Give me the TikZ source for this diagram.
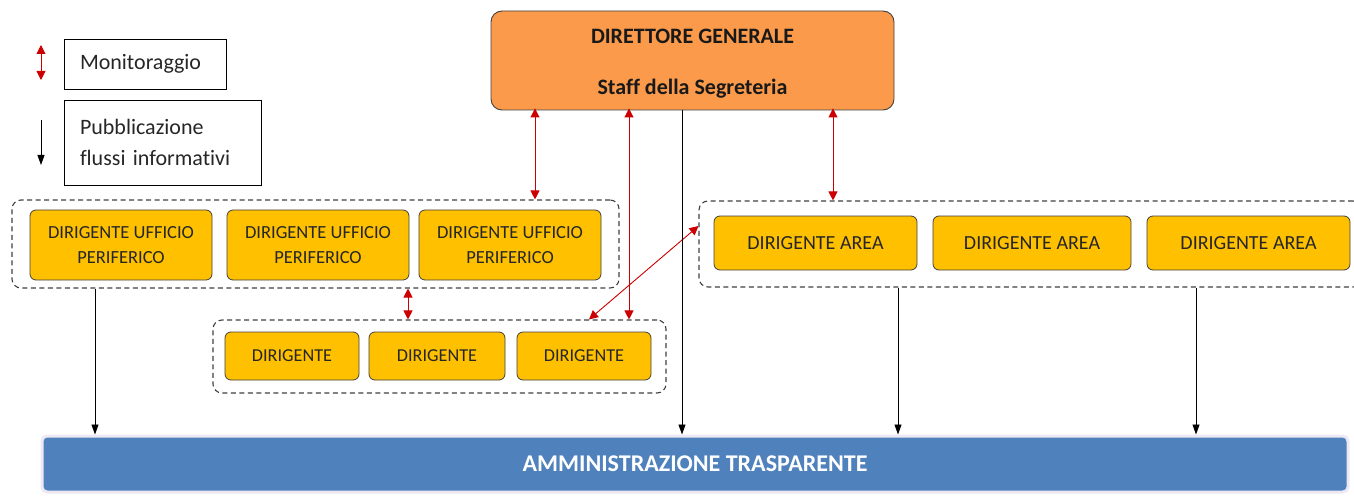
\documentclass[tikz,border=0pt]{standalone}
\usepackage{fontspec}
\setmainfont{Carlito}[Ligatures=NoCommon]
\usetikzlibrary{arrows.meta,calc}
\definecolor{orangeF}{HTML}{FA9A4A}
\definecolor{yellowF}{HTML}{FFC000}
\definecolor{blueF}{HTML}{4F81BD}
\definecolor{redA}{HTML}{CC0000}
\definecolor{edgeG}{HTML}{404040}
\definecolor{glow}{HTML}{EEE8F4}
\tikzset{
  ybox/.style={draw=edgeG, line width=0.8pt, fill=yellowF, rounded corners=6pt, inner sep=0pt, align=center, text=black!85},
  dgroup/.style={draw=edgeG, line width=1.1pt, dash pattern=on 5pt off 3.5pt, rounded corners=9pt, inner sep=0pt},
  redarr/.style={draw=redA, line width=0.9pt, {Triangle[length=9pt,width=9pt]}-{Triangle[length=9pt,width=9pt]}},
  blkarr/.style={draw=black, line width=0.9pt, -{Triangle[length=10pt,width=7pt]}},
  legbox/.style={draw=black, line width=0.9pt, inner sep=0pt, text=black!85, font=\fontsize{22}{31}\selectfont, align=left},
}
\begin{document}
\begin{tikzpicture}[x=1pt,y=-1pt]
\useasboundingbox (0,0) rectangle (1354,497);
% legend
\node[legbox, minimum width=162, minimum height=50, text width=130] (lm) at (145,64) {Monitoraggio};
\node[legbox, minimum width=197, minimum height=85, text width=165] (lp) at (162.5,142.5) {Pubblicazione\\flussi informativi};
\coordinate (lma) at (41,45);
\coordinate (lmb) at (41,80);
\coordinate (lpa) at (41,120);
\coordinate (lpb) at (41,165);
\draw[redarr] (lma) -- (lmb);
\draw[blkarr] (lpa) -- (lpb);
% director
\node[draw=edgeG, line width=0.9pt, fill=orangeF, rounded corners=11pt, minimum width=403, minimum height=99, inner sep=0pt] (dg) at (692.5,60.5) {};
\node[align=center, inner sep=0pt, font=\bfseries\fontsize{22}{51}\selectfont, text=black!90] (dgt) at ([yshift=-3]dg.center) {DIRETTORE GENERALE\\Staff della Segreteria};
% group 1
\node[dgroup, minimum width=607, minimum height=88] (g1) at (315.5,244) {};
\foreach \n/\x in {a/121,b/318,c/510}{
  \node[ybox, minimum width=182, minimum height=70, font=\fontsize{18.5}{25}\selectfont] (u\n) at (\x,245) {DIRIGENTE UFFICIO\\PERIFERICO};
}
% group 2
\node[dgroup, minimum width=453, minimum height=73] (g2) at (439.5,356.5) {};
\node[ybox, minimum width=134, minimum height=48, font=\fontsize{18.2}{25}\selectfont] (da) at (292,356) {DIRIGENTE};
\node[ybox, minimum width=136, minimum height=48, font=\fontsize{18.2}{25}\selectfont] (db) at (437,356) {DIRIGENTE};
\node[ybox, minimum width=134, minimum height=48, font=\fontsize{18.2}{25}\selectfont] (dc) at (584,356) {DIRIGENTE};
% group 3
\node[dgroup, minimum width=663, minimum height=86] (g3) at (1030.5,244) {};
\node[ybox, minimum width=203, minimum height=54, font=\fontsize{20}{25}\selectfont] (aa) at (815.5,243) {DIRIGENTE AREA};
\node[ybox, minimum width=198, minimum height=54, font=\fontsize{20}{25}\selectfont] (ab) at (1032,243) {DIRIGENTE AREA};
\node[ybox, minimum width=203, minimum height=54, font=\fontsize{20}{25}\selectfont] (ac) at (1248.5,243) {DIRIGENTE AREA};
% bottom bar
\node[draw=glow, line width=3pt, fill=blueF, rounded corners=5pt, minimum width=1306, minimum height=56, inner sep=0pt, font=\bfseries\fontsize{24}{25}\selectfont, text=white] (at) at (695,464) {AMMINISTRAZIONE TRASPARENTE};
% x positions
\coordinate (x1) at (535,0);
\coordinate (x2) at (629,0);
\coordinate (x3) at (833,0);
\coordinate (x4) at (408,0);
\coordinate (x5) at (589,0);
\coordinate (b1) at (95,0);
\coordinate (b2) at (682,0);
\coordinate (b3) at (898,0);
\coordinate (b4) at (1196,0);
% red monitoring arrows
\draw[redarr] ([yshift=2]dg.south -| x1) -- (g1.north -| x1);
\draw[redarr] ([yshift=2]dg.south -| x2) -- (g2.north -| x2);
\draw[redarr] ([yshift=2]dg.south -| x3) -- (g3.north -| x3);
\draw[redarr] (g1.south -| x4) -- (g2.north -| x4);
\draw[redarr] ([yshift=18]g3.west) -- (g2.north -| x5);
% black publication arrows
\draw[blkarr] (g1.south -| b1) -- (at.north -| b1);
\draw[blkarr] (dg.south -| b2) -- (at.north -| b2);
\draw[blkarr] (g3.south -| b3) -- (at.north -| b3);
\draw[blkarr] (g3.south -| b4) -- (at.north -| b4);
\end{tikzpicture}
\end{document}
